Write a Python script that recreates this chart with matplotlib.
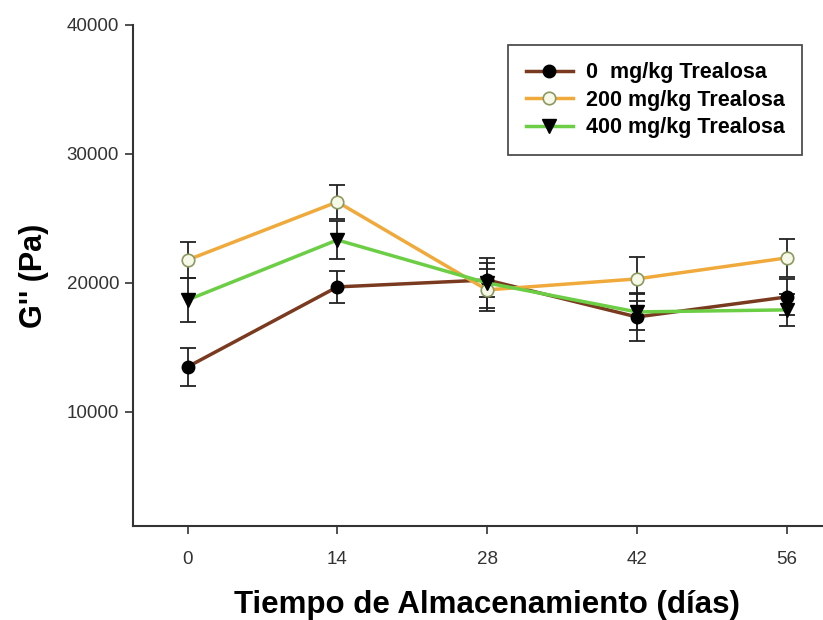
import matplotlib
matplotlib.use("Agg")
import matplotlib.pyplot as plt

days = [0, 14, 28, 42, 56]
g0 = [13490, 19690, 20230, 17360, 18910]
g0_err = [1470, 1240, 1320, 1860, 1400]
g200 = [21780, 26280, 19460, 20310, 21940]
g200_err = [1400, 1320, 1630, 1700, 1470]
g400 = [18680, 23330, 20000, 17750, 17910]
g400_err = [1700, 1470, 1940, 1400, 1240]
labels = ["0  mg/kg Trealosa", "200 mg/kg Trealosa", "400 mg/kg Trealosa"]
yticks = [10000, 20000, 30000, 40000]

plt.rcParams['font.family'] = ['Liberation Sans', 'DejaVu Sans']

fig = plt.figure(figsize=(8.23, 6.2), dpi=100)
ax = fig.add_axes([0.1616, 0.1516, 0.8384, 0.8081])

c0 = "#7a3a1f"
c200 = "#f0aa3c"
c400 = "#6cce44"

for vals, errs in [(g0, g0_err), (g200, g200_err), (g400, g400_err)]:
    ax.errorbar(days, vals, yerr=errs, fmt='none', ecolor='#222222', elinewidth=1.3,
                capsize=5.5, capthick=1.3, zorder=2)

ax.plot(days, g0, color=c0, lw=2.5, marker='o', ms=9, mfc='black', mec='black', label=labels[0], zorder=3)
ax.plot(days, g200, color=c200, lw=2.5, marker='o', ms=9, mfc='#f6f8e8', mec='#8a9a60', mew=1.2, label=labels[1], zorder=3)
ax.plot(days, g400, color=c400, lw=2.5, marker='v', ms=10, mfc='black', mec='black', label=labels[2], zorder=3)

ax.set_xlim(-5.1, 59.4)
ax.set_ylim(1150, 40000)
ax.set_xticks(days)
ax.set_yticks(yticks)
ax.tick_params(axis='both', direction='out', length=6, width=1.2, colors='#333333', labelsize=13.5, pad=4)
ax.tick_params(axis='x', pad=12)
for s in ['top', 'right']:
    ax.spines[s].set_visible(False)
for s in ['left', 'bottom']:
    ax.spines[s].set_linewidth(1.5)
    ax.spines[s].set_color('#333333')

ax.set_ylabel("G'' (Pa)", fontsize=22, fontweight='bold', labelpad=13)
ax.set_xlabel("Tiempo de Almacenamiento (días)", fontsize=22.5, fontweight='bold')
ax.xaxis.set_label_coords(0.513, -0.127)

leg = ax.legend(loc='upper right', bbox_to_anchor=(0.9696, 0.960), borderaxespad=0,
                prop={'weight': 'bold', 'size': 15.5}, frameon=True, fancybox=False,
                edgecolor='#222222', handlelength=2.2, borderpad=0.8, labelspacing=0.3,
                handletextpad=0.6)
leg.get_frame().set_linewidth(1.3)

fig.savefig("out.png", dpi=100)
